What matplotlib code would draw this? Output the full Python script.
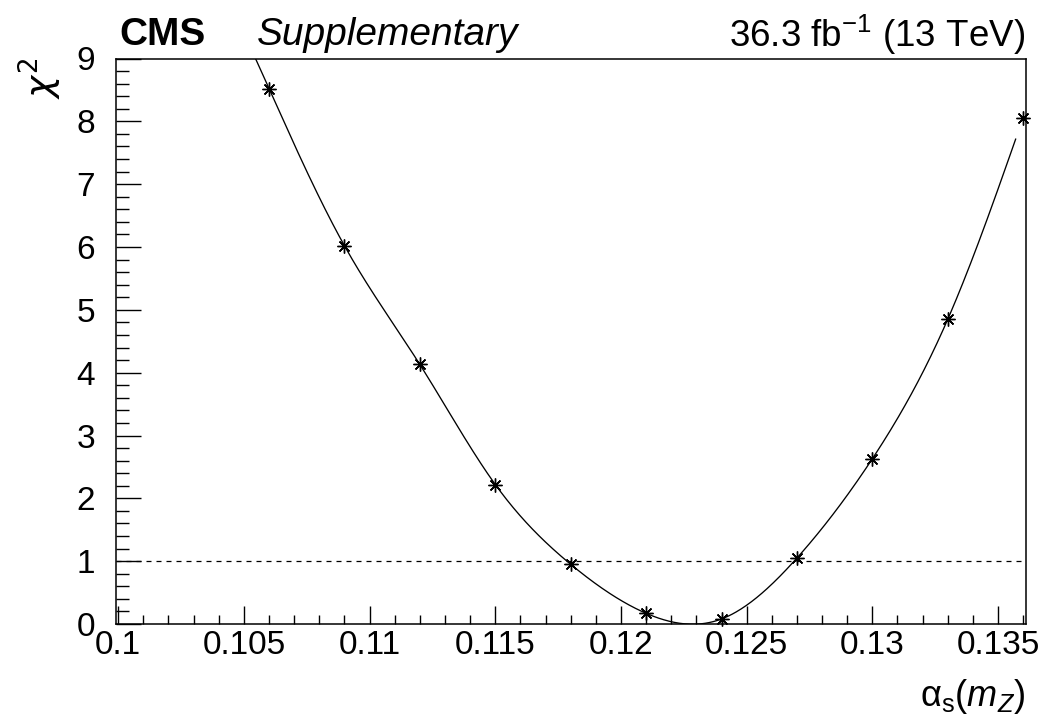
import numpy as np
import matplotlib
matplotlib.use("Agg")
import matplotlib.pyplot as plt
from matplotlib.ticker import FixedLocator, MultipleLocator, FixedFormatter

# ---- data ----
alpha_s = [0.106, 0.109, 0.112, 0.115, 0.118, 0.121, 0.124, 0.127, 0.130, 0.133, 0.136]
chi2 = [8.52, 6.02, 4.13, 2.22, 0.95, 0.17, 0.08, 1.05, 2.63, 4.85, 8.06]
x_ticks = [0.100, 0.105, 0.110, 0.115, 0.120, 0.125, 0.130, 0.135]
x_tick_labels = ["0.1", "0.105", "0.11", "0.115", "0.12", "0.125", "0.13", "0.135"]
y_ticks = [0, 1, 2, 3, 4, 5, 6, 7, 8, 9]
y_tick_labels = ["0", "1", "2", "3", "4", "5", "6", "7", "8", "9"]
threshold = 1.0
curve_range = (0.1050, 0.1357)

plt.rcParams['font.family'] = ['Liberation Sans', 'DejaVu Sans']
plt.rcParams['mathtext.fontset'] = 'custom'
plt.rcParams['mathtext.rm'] = 'Liberation Sans'
plt.rcParams['mathtext.it'] = 'Liberation Sans:italic'
plt.rcParams['mathtext.bf'] = 'Liberation Sans:bold'


def natural_spline(xk, yk, xe):
    xk = np.asarray(xk, float)
    yk = np.asarray(yk, float)
    n = len(xk)
    h = np.diff(xk)
    A = np.zeros((n, n))
    r = np.zeros(n)
    A[0, 0] = A[-1, -1] = 1.0
    for i in range(1, n - 1):
        A[i, i - 1] = h[i - 1]
        A[i, i] = 2 * (h[i - 1] + h[i])
        A[i, i + 1] = h[i]
        r[i] = 6 * ((yk[i + 1] - yk[i]) / h[i] - (yk[i] - yk[i - 1]) / h[i - 1])
    M = np.linalg.solve(A, r)
    idx = np.clip(np.searchsorted(xk, xe) - 1, 0, n - 2)
    x0, x1 = xk[idx], xk[idx + 1]
    hh = x1 - x0
    t0 = x1 - xe
    t1 = xe - x0
    return (M[idx] * t0 ** 3 / (6 * hh) + M[idx + 1] * t1 ** 3 / (6 * hh)
            + (yk[idx] / hh - M[idx] * hh / 6) * t0
            + (yk[idx + 1] / hh - M[idx + 1] * hh / 6) * t1)


W, H = 1045, 723
fig = plt.figure(figsize=(W / 100, H / 100), dpi=100)
left, right, top, bottom = 115.7, 1025.7, 58.5, 624.0
ax = fig.add_axes([left / W, 1 - bottom / H, (right - left) / W, (bottom - top) / H])

xf = np.linspace(curve_range[0], curve_range[1], 600)
ax.plot(xf, natural_spline(alpha_s, chi2, xf), color='black', lw=0.95)

ax.plot(alpha_s, chi2, linestyle='none', marker=(8, 2, 0), markersize=10,
        markeredgewidth=1.0, color='black', clip_on=False)

ax.axhline(threshold, color='black', lw=0.9, dashes=(4, 4))

ax.set_xlim(0.0999, 0.1361)
ax.set_ylim(0, 9)

ax.xaxis.set_major_locator(FixedLocator(x_ticks))
ax.xaxis.set_major_formatter(FixedFormatter(x_tick_labels))
ax.xaxis.set_minor_locator(MultipleLocator(0.001))
ax.yaxis.set_major_locator(FixedLocator(y_ticks))
ax.yaxis.set_major_formatter(FixedFormatter(y_tick_labels))
ax.yaxis.set_minor_locator(MultipleLocator(0.2))

ax.tick_params(which='both', direction='in', top=False, right=False, width=1.0, color='black')
ax.tick_params(axis='x', which='major', length=13, pad=4, labelsize=24)
ax.tick_params(axis='x', which='minor', length=6.5)
ax.tick_params(axis='y', which='major', length=18, pad=15, labelsize=24)
ax.tick_params(axis='y', which='minor', length=9)
for s in ax.spines.values():
    s.set_linewidth(1.1)

fig.text(1025 / W, 1 - 706 / H, r'α$_{\mathrm{s}}$($m_{Z}$)', ha='right', va='baseline',
         fontsize=26)
fig.text(40 / W, 1 - 58 / H, r'$\chi^{\mathrm{2}}$', ha='center', va='top', rotation=90,
         fontsize=27, math_fontfamily='dejavusans')

fig.text(119 / W, 1 - 45 / H, 'CMS', ha='left', va='baseline', fontsize=28, fontweight='bold')
fig.text(257 / W, 1 - 45 / H, 'Supplementary', ha='left', va='baseline', fontsize=28,
         fontstyle='italic')
fig.text(1025 / W, 1 - 47 / H, r'36.3 fb$^{-1}$ (13 TeV)', ha='right', va='baseline', fontsize=26.5)

fig.savefig('out.png', dpi=100)
